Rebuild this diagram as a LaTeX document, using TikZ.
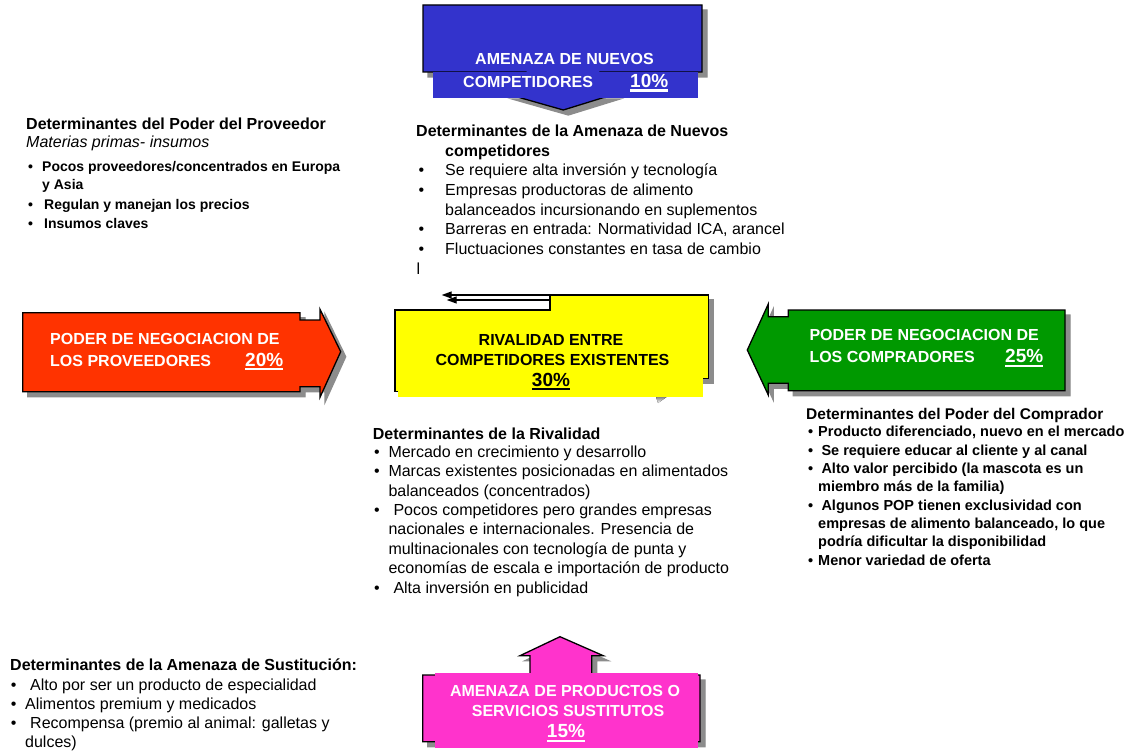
\documentclass[tikz,border=0pt]{standalone}
\usepackage{fontspec}
\setmainfont{Liberation Sans}
\usetikzlibrary{arrows.meta}

\definecolor{shade}{HTML}{8C8C8C}
\definecolor{newblue}{HTML}{3333CC}
\definecolor{supred}{HTML}{FF3300}
\definecolor{buygreen}{HTML}{009900}
\definecolor{rivyellow}{HTML}{FFFF00}
\definecolor{subpink}{HTML}{FF33CC}

% underlined percentage with a thick rule
\newcommand\pctul[1]{\setbox0=\hbox{#1}\rlap{\vrule width\wd0 height -2.2pt depth 4.4pt}\box0}

% outlines of the five force shapes
\newcommand\pathNew{(423,5) -- (702,5) -- (702,72) -- (600,72) -- (600,94) -- (615,94) -- (563.3,110) -- (507,94) -- (526,94) -- (526,72) -- (423,72) -- cycle}
\newcommand\pathSup{(22.7,312.7) -- (300,312.7) -- (300,320) -- (320,320) -- (320,309.3) -- (340.7,351.7) -- (320,397.3) -- (320,386.7) -- (300,386.7) -- (300,391.7) -- (22.7,391.7) -- cycle}
\newcommand\pathBuy{(1065,310) -- (788.3,310) -- (788.3,316.7) -- (768.3,316.7) -- (768.3,304) -- (747.3,350) -- (768.3,395) -- (768.3,383.3) -- (788.3,383.3) -- (788.3,390.7) -- (1065,390.7) -- cycle}
\newcommand\pathRiv{(395,391.7) -- (395,310) -- (550,310) -- (550,295) -- (708.3,295) -- (708.3,378.3) -- (690,378.3) -- (690,391.7) -- cycle}
\newcommand\pathSub{(422.7,741.7) -- (422.7,675) -- (530,675) -- (530,655.7) -- (520,655.7) -- (560,636.7) -- (603.3,655.7) -- (591.7,655.7) -- (591.7,675) -- (700,675) -- (700,741.7) -- cycle}

\begin{document}
\begin{tikzpicture}[x=1pt,y=-1pt,
  shadowfill/.style={fill=shade, draw=shade, line width=1.3pt},
  outline/.style={draw=black, line width=1.3pt},
  boxtext/.style={font=\fontsize{16}{19}\selectfont\bfseries, inner sep=0pt},
  pcttext/.style={font=\fontsize{19}{22}\selectfont\bfseries, inner sep=0pt},
  bodytext/.style={font=\fontsize{16}{19}\selectfont, inner sep=0pt, anchor=base west},
  headtext/.style={font=\fontsize{16}{19}\selectfont\bfseries, inner sep=0pt, anchor=base west},
  smallbold/.style={font=\fontsize{14}{17}\selectfont\bfseries, inner sep=0pt, anchor=base west},
  buybold/.style={font=\fontsize{14.5}{17}\selectfont\bfseries, inner sep=0pt, anchor=base west},
  arrowline/.style={line width=1.3pt, -{Triangle[length=10pt,width=7pt]}}]

\fill[white] (0,0) rectangle (1143,754);
\useasboundingbox (0,0) rectangle (1143,754);

% ---- threat of new entrants (top)
\fill[shadowfill, shift={(5,5)}] \pathNew;
\fill[newblue, outline] \pathNew;
\fill[newblue] (433,72) rectangle (698,97.7);
\node[boxtext, white, anchor=base west] (new-t1) at (475,65) {AMENAZA DE NUEVOS};
\node[boxtext, white, anchor=base west] (new-t2) at (463,87.3) {COMPETIDORES};
\node[pcttext, white, anchor=base west] (new-pct) at (630,87.3) {\pctul{10\%}};

% ---- supplier power (left)
\fill[shadowfill, shift={(5,5)}] \pathSup;
\fill[supred, outline] \pathSup;
\node[boxtext, white, anchor=base west] (sup-t1) at (50,344.3) {PODER DE NEGOCIACION DE};
\node[boxtext, white, anchor=base west] (sup-t2) at (50,366) {LOS PROVEEDORES};
\node[pcttext, white, anchor=base west] (sup-pct) at (245,366) {\pctul{20\%}};

% ---- buyer power (right)
\fill[shadowfill, shift={(5,5)}] \pathBuy;
\fill[buygreen, outline] \pathBuy;
\node[boxtext, white, anchor=base west] (buy-t1) at (809.3,340) {PODER DE NEGOCIACION DE};
\node[boxtext, white, anchor=base west] (buy-t2) at (809.3,362.7) {LOS COMPRADORES};
\node[pcttext, white, anchor=base west] (buy-pct) at (1005,362.7) {\pctul{25\%}};

% ---- rivalry (centre)
\coordinate (riv-from) at (550,295);
\coordinate (riv-to) at (441.7,295);
\fill[shadowfill, shift={(5,5)}] \pathRiv;
\draw[arrowline, shade] ([shift={(5,5)}]riv-from) -- ([shift={(5,5)}]riv-to);
\fill[shade] (656,396.7) -- (667,396.7) -- (658,403) -- cycle;
\fill[rivyellow, outline] \pathRiv;
\draw[arrowline, black] (riv-from) -- (riv-to);
\fill[rivyellow] (398.3,312) rectangle (703.3,396.7);
\node[boxtext, anchor=base] (riv-t1) at (551,345) {RIVALIDAD ENTRE};
\node[boxtext, anchor=base] (riv-t2) at (552.5,365) {COMPETIDORES EXISTENTES};
\node[pcttext, anchor=base] (riv-pct) at (551,386) {\pctul{30\%}};

% ---- threat of substitutes (bottom)
\fill[shadowfill, shift={(5,5)}] \pathSub;
\fill[subpink, outline] \pathSub;
\fill[subpink] (435,673.3) rectangle (697.7,748.3);
\node[boxtext, white, anchor=base] (sub-t1) at (565,696) {AMENAZA DE PRODUCTOS O};
\node[boxtext, white, anchor=base] (sub-t2) at (568,716) {SERVICIOS SUSTITUTOS};
\node[pcttext, white, anchor=base] (sub-pct) at (566,737.3) {\pctul{15\%}};

% ---- supplier determinants
\node[headtext] (sd-head) at (26,130) {Determinantes del Poder del Proveedor};
\node[bodytext, font=\fontsize{16}{19}\selectfont\itshape] (sd-sub) at (26,147.7) {Materias primas- insumos};
\foreach \y [count=\i] in {171.7,210,228.3}
  \node[smallbold] (sd-bul\i) at (28,\y) {•};
\foreach \x/\y/\t [count=\i] in {42/171.7/{Pocos proveedores/concentrados en Europa},
    42/190/{y Asia}, 44/210/{Regulan y manejan los precios}, 44/228.3/{Insumos claves}}
  \node[smallbold] (sd-line\i) at (\x,\y) {\t};

% ---- new entrant determinants
\node[headtext] (nd-head) at (416,136.5) {Determinantes de la Amenaza de Nuevos};
\node[headtext] (nd-head2) at (445,156.2) {competidores};
\foreach \y [count=\i] in {175.9,195.6,235,254.7}
  \node[bodytext] (nd-bul\i) at (418.3,\y) {•};
\foreach \x/\y/\t [count=\i] in {445/175.9/{Se requiere alta inversión y tecnología},
    445/195.6/{Empresas productoras de alimento},
    445/215.3/{balanceados incursionando en suplementos},
    445/235/{Barreras en entrada: Normatividad ICA, arancel},
    445/254.7/{Fluctuaciones constantes en tasa de cambio},
    416.5/274.4/{l}}
  \node[bodytext] (nd-line\i) at (\x,\y) {\t};

% ---- rivalry determinants
\node[headtext] (rd-head) at (372.7,439.5) {Determinantes de la Rivalidad};
\foreach \y [count=\i] in {457.5,476.9,515.6,593}
  \node[bodytext] (rd-bul\i) at (374,\y) {•};
\foreach \x/\y/\t [count=\i] in {388.3/457.5/{Mercado en crecimiento y desarrollo},
    388.3/476.9/{Marcas existentes posicionadas en alimentados},
    388.3/496.2/{balanceados (concentrados)},
    393.3/515.6/{Pocos competidores pero grandes empresas},
    388.3/534.9/{nacionales e internacionales. Presencia de},
    388.3/554.3/{multinacionales con tecnología de punta y},
    388.3/573.6/{economías de escala e importación de producto},
    393.3/593/{Alta inversión en publicidad}}
  \node[bodytext] (rd-line\i) at (\x,\y) {\t};

% ---- buyer determinants
\node[buybold, font=\fontsize{15.5}{18}\selectfont\bfseries] (bd-head) at (806,419) {Determinantes del Poder del Comprador};
\foreach \y [count=\i] in {436.7,455,473.3,510,565}
  \node[buybold] (bd-bul\i) at (808,\y) {•};
\foreach \x/\y/\t [count=\i] in {818/436.7/{Producto diferenciado, nuevo en el mercado},
    821.3/455/{Se requiere educar al cliente y al canal},
    821.3/473.3/{Alto valor percibido (la mascota es un},
    818/491.7/{miembro más de la familia)},
    821.3/510/{Algunos POP tienen exclusividad con},
    818/528.3/{empresas de alimento balanceado, lo que},
    818/546.7/{podría dificultar la disponibilidad},
    818/565/{Menor variedad de oferta}}
  \node[buybold] (bd-line\i) at (\x,\y) {\t};

% ---- substitute determinants
\node[headtext] (xd-head) at (10,670) {Determinantes de la Amenaza de Sustitución:};
\foreach \y [count=\i] in {690,709.3,728.5}
  \node[bodytext] (xd-bul\i) at (10.7,\y) {•};
\foreach \x/\y/\t [count=\i] in {30/690/{Alto por ser un producto de especialidad},
    25/709.3/{Alimentos premium y medicados},
    30/728.5/{Recompensa (premio al animal: galletas y},
    25/747.8/{dulces)}}
  \node[bodytext] (xd-line\i) at (\x,\y) {\t};

\end{tikzpicture}
\end{document}
